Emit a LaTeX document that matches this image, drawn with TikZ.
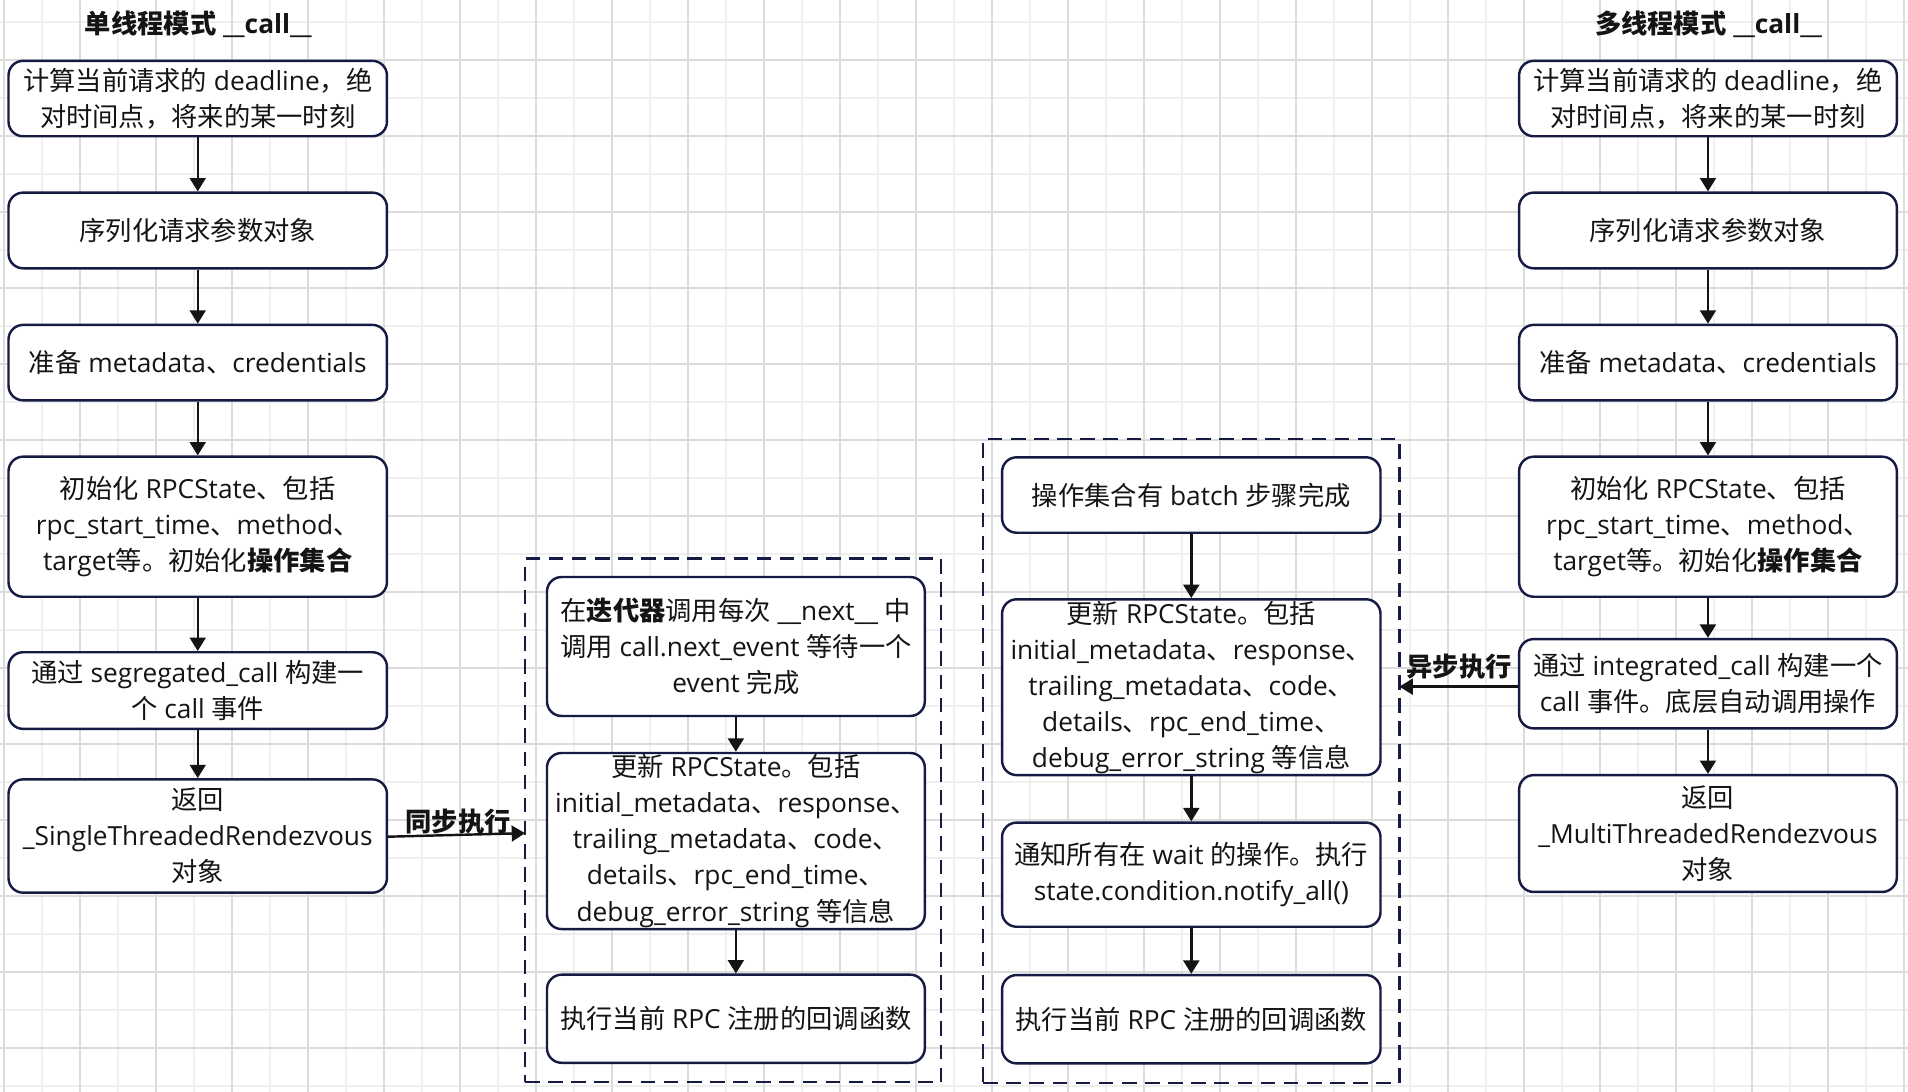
\documentclass[tikz,border=0pt]{standalone}
\usepackage{fontspec}
\usetikzlibrary{arrows.meta}
\setmainfont{Open Sans}
\newfontfamily\cjkfont{Noto Sans CJK SC}
\XeTeXinterchartokenstate=1
\newXeTeXintercharclass\CJKclass
\makeatletter
\count@="3000
\loop \XeTeXcharclass\count@=\CJKclass \advance\count@ 1 \ifnum\count@<"3040 \repeat
\count@="4E00
\loop \XeTeXcharclass\count@=\CJKclass \advance\count@ 1 \ifnum\count@<"A000 \repeat
\count@="FF00
\loop \XeTeXcharclass\count@=\CJKclass \advance\count@ 1 \ifnum\count@<"FFF0 \repeat
\makeatother
\XeTeXinterchartoks 0 \CJKclass = {\begingroup\cjkfont}
\XeTeXinterchartoks 4095 \CJKclass = {\begingroup\cjkfont}
\XeTeXinterchartoks \CJKclass 0 = {\endgroup}
\XeTeXinterchartoks \CJKclass 4095 = {\endgroup}
\definecolor{navy}{RGB}{22,27,68}
\definecolor{arrowc}{RGB}{20,20,20}
\definecolor{txt}{RGB}{20,20,20}
\definecolor{gridlight}{RGB}{239,239,239}
\definecolor{griddark}{RGB}{220,220,220}
\tikzset{
  box/.style={draw=navy, line width=1pt, rounded corners=6pt, fill=white, inner sep=0pt,
    align=center, text=txt, font=\fontsize{10.8pt}{14.8pt}\selectfont},
  cont/.style={draw=navy, line width=1pt, dash pattern=on 6pt off 3.5pt, inner sep=0pt},
  arr/.style={-{Triangle[length=5.5pt,width=6.5pt]}, line width=1pt, draw=arrowc},
  lbl/.style={font=\bfseries\fontsize{10.8pt}{14.8pt}\selectfont, text=txt, inner sep=0pt},
  gl/.style={draw=gridlight, line width=0.8pt},
  gd/.style={draw=griddark, line width=0.8pt},
}
\newcommand\mybox[6]{\node[box, minimum width={(#4-#2)*0.5pt}, minimum height={(#5-#3)*0.5pt}] (#1) at ({(#2+#4)/2},{(#3+#5)/2}) {#6};}
\newcommand\mycont[5]{\node[cont, minimum width={(#4-#2)*0.5pt}, minimum height={(#5-#3)*0.5pt}] (#1) at ({(#2+#4)/2},{(#3+#5)/2}) {};}
\begin{document}
\begin{tikzpicture}[x=0.5pt,y=-0.5pt]
\useasboundingbox (0,0) rectangle (1568,897);
\fill[white] (0,0) rectangle (1568,897);
% grid
\foreach \k in {1,3,...,49} {\draw[gl] ({3.3+31.23*\k},0) -- ({3.3+31.23*\k},897);}
\foreach \j in {0,2,...,28} {\draw[gl] (0,{18.1+31.23*\j}) -- (1568,{18.1+31.23*\j});}
\foreach \k in {0,2,...,50} {\draw[gd] ({3.3+31.23*\k},0) -- ({3.3+31.23*\k},897);}
\foreach \j in {1,3,...,27} {\draw[gd] (0,{18.1+31.23*\j}) -- (1568,{18.1+31.23*\j});}

% titles
\node[lbl] (tl) at (163,19.7) {单线程模式 \_\_call\_\_};
\node[lbl] (tr) at (1404,19.7) {多线程模式 \_\_call\_\_};

% containers
\mycont{syncc}{431.5}{459}{773.5}{889.4}
\mycont{asyncc}{808}{361}{1150}{889.8}

% left column
\mybox{L1}{7}{50}{318}{112}{计算当前请求的 deadline，绝\\对时间点，将来的某一时刻}
\mybox{L2}{7}{158.3}{318}{220.5}{序列化请求参数对象}
\mybox{L3}{7}{267}{318}{329}{准备 metadata、credentials}
\mybox{L4}{7}{375.3}{318}{490.4}{初始化 RPCState、包括\\rpc\_start\_time、method、\\target等。初始化\textbf{操作集合}}
\mybox{L5}{7}{536}{318}{599}{通过 segregated\_call 构建一\\个 call 事件}
\mybox{L6}{7}{640.5}{318}{733.6}{返回\\\_SingleThreadedRendezvous\\对象}

% right column
\mybox{R1}{1248.4}{50}{1558.8}{112}{计算当前请求的 deadline，绝\\对时间点，将来的某一时刻}
\mybox{R2}{1248.4}{158.3}{1558.8}{220.5}{序列化请求参数对象}
\mybox{R3}{1248.4}{267}{1558.8}{329}{准备 metadata、credentials}
\mybox{R4}{1248.4}{375.3}{1558.8}{490.4}{初始化 RPCState、包括\\rpc\_start\_time、method、\\target等。初始化\textbf{操作集合}}
\mybox{R5}{1248.4}{525.2}{1558.8}{598.6}{通过 integrated\_call 构建一个\\call 事件。底层自动调用操作}
\mybox{R6}{1248.4}{637}{1558.8}{733}{返回\\\_MultiThreadedRendezvous\\对象}

% middle-left (sync)
\mybox{M1}{449.5}{474.2}{760}{588.4}{在\textbf{迭代器}调用每次 \_\_next\_\_ 中\\调用 call.next\_event 等待一个\\event 完成}
\mybox{M2}{449.5}{618.8}{760}{763.5}{更新 RPCState。包括\\initial\_metadata、response、\\trailing\_metadata、code、\\details、rpc\_end\_time、\\debug\_error\_string 等信息}
\mybox{M3}{449.5}{801}{760}{873.4}{执行当前 RPC 注册的回调函数}

% middle-right (async)
\mybox{N1}{823.5}{375.8}{1134.5}{437.8}{操作集合有 batch 步骤完成}
\mybox{N2}{823.5}{492.5}{1134.5}{637}{更新 RPCState。包括\\initial\_metadata、response、\\trailing\_metadata、code、\\details、rpc\_end\_time、\\debug\_error\_string 等信息}
\mybox{N3}{823.5}{676}{1134.5}{761.6}{通知所有在 wait 的操作。执行\\state.condition.notify\_all()}
\mybox{N4}{823.5}{801.3}{1134.5}{873.9}{执行当前 RPC 注册的回调函数}

% vertical arrows
\foreach \a/\b in {L1/L2,L2/L3,L3/L4,L4/L5,L5/L6,R1/R2,R2/R3,R3/R4,R4/R5,R5/R6,M1/M2,M2/M3,N1/N2,N2/N3,N3/N4}
  {\draw[arr] (\a.south) -- (\b.north);}

% sync / async arrows
\coordinate (syncin) at (431.5,684.7);
\coordinate (asyncin) at (1150,564.3);
\draw[arr] (L6.east |- 0,687.6) -- (syncin);
\draw[arr] (R5.west |- asyncin) -- (asyncin);
\node[lbl] (syncl) at (376.5,675.3) {同步执行};
\node[lbl] (asyncl) at (1199,548) {异步执行};
\end{tikzpicture}
\end{document}
